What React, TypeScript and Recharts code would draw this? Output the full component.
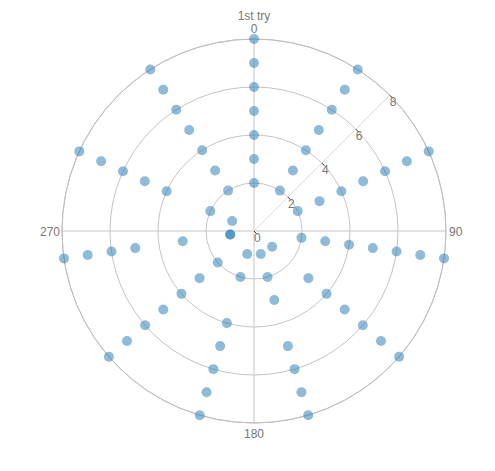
import { RadarChart, PolarGrid, PolarAngleAxis, PolarRadiusAxis, Radar } from 'recharts';

// angle of each spoke (degrees, clockwise from top) and the radii found on it
const THETA = [0, 32.7, 65.5, 98.2, 130.9, 163.6, 196.4, 229.1, 261.8, 294.5, 327.3];
const R_ON_SPOKE = [
    [2, 3, 4, 5, 6, 7, 8],
    [2, 3, 4, 5, 6, 7, 8],
    [2, 3, 4, 5, 6, 7, 8],
    [2, 3, 4, 5, 6, 7, 8],
    [1, 3, 4, 5, 6, 7, 8],
    [1, 2, 3, 5, 6, 7, 8],
    [1, 2, 4, 5, 6, 7, 8],
    [2, 3, 4, 5, 6, 7, 8],
    [1, 1, 3, 5, 6, 7, 8],
    [1, 2, 4, 5, 6, 7, 8],
    [2, 3, 4, 5, 6, 7, 8],
];
const ANGLE_TICKS = [0, 90, 180, 270];
const RADIUS_TICKS = [0, 2, 4, 6, 8];
const TITLE = '1st try';

const points = THETA.flatMap((theta, i) => R_ON_SPOKE[i].map((r) => ({ theta, r })));

const FONT = '"Liberation Sans", Arial, sans-serif';
const TEXT = '#777';

const AngleTick = (props: any) => {
    const { x, y, payload } = props;
    const v = payload.value;
    if (!ANGLE_TICKS.includes(v)) return null;
    let anchor = 'middle';
    let dx = 0;
    let dy = 0;
    if (v === 0) dy = -5;
    else if (v === 90) { anchor = 'start'; dx = 2; dy = 4.5; }
    else if (v === 180) dy = 14;
    else { anchor = 'end'; dx = -1; dy = 4.5; }
    return (
        <text x={x + dx} y={y + dy} textAnchor={anchor} fill={TEXT} fontSize={12} fontFamily={FONT}>
            {v}
        </text>
    );
};

const RadiusTick = (props: any) => {
    const { x, y, payload } = props;
    return (
        <g>
            <line x1={x} y1={y} x2={x + 2.5} y2={y + 2.5} stroke="#444" strokeWidth={1} />
            <text x={x} y={y + 11} textAnchor="start" fill={TEXT} fontSize={12} fontFamily={FONT}>
                {payload.value}
            </text>
        </g>
    );
};

const Dot = (props: any) => (
    <circle cx={props.cx} cy={props.cy} r={5} fill="#1f77b4" fillOpacity={0.5} stroke="none" />
);

export default function App() {
    return (
        <div style={{ position: 'relative', width: 479, height: 455 }}>
            <div
                style={{
                    position: 'absolute',
                    top: 1.5,
                    left: 146,
                    width: 200,
                    textAlign: 'center',
                    fontFamily: FONT,
                    fontSize: 12,
                    lineHeight: '12px',
                    color: TEXT,
                }}
            >
                {TITLE}
            </div>
            <RadarChart
                width={479}
                height={455}
                data={points}
                cx={246}
                cy={223}
                outerRadius={192}
                margin={{ top: 0, right: 0, bottom: 0, left: 0 }}
            >
                <PolarGrid gridType="circle" stroke="#c4c4c4" />
                <PolarAngleAxis
                    dataKey="theta"
                    type="number"
                    domain={[0, 360]}
                    ticks={ANGLE_TICKS}
                    tickCount={5}
                    tickSize={1}
                    tickLine={false}
                    axisLineType="circle"
                    axisLine={{ stroke: '#bdbdbd' }}
                    tick={AngleTick}
                />
                <PolarRadiusAxis
                    angle={45}
                    domain={[0, 8]}
                    ticks={RADIUS_TICKS}
                    tickCount={5}
                    stroke="#dcdcdc"
                    axisLine={{ stroke: '#dcdcdc' }}
                    tick={RadiusTick}
                />
                <Radar
                    dataKey="r"
                    stroke="none"
                    fill="none"
                    fillOpacity={0}
                    dot={Dot}
                    activeDot={false}
                    isAnimationActive={false}
                />
            </RadarChart>
        </div>
    );
}
